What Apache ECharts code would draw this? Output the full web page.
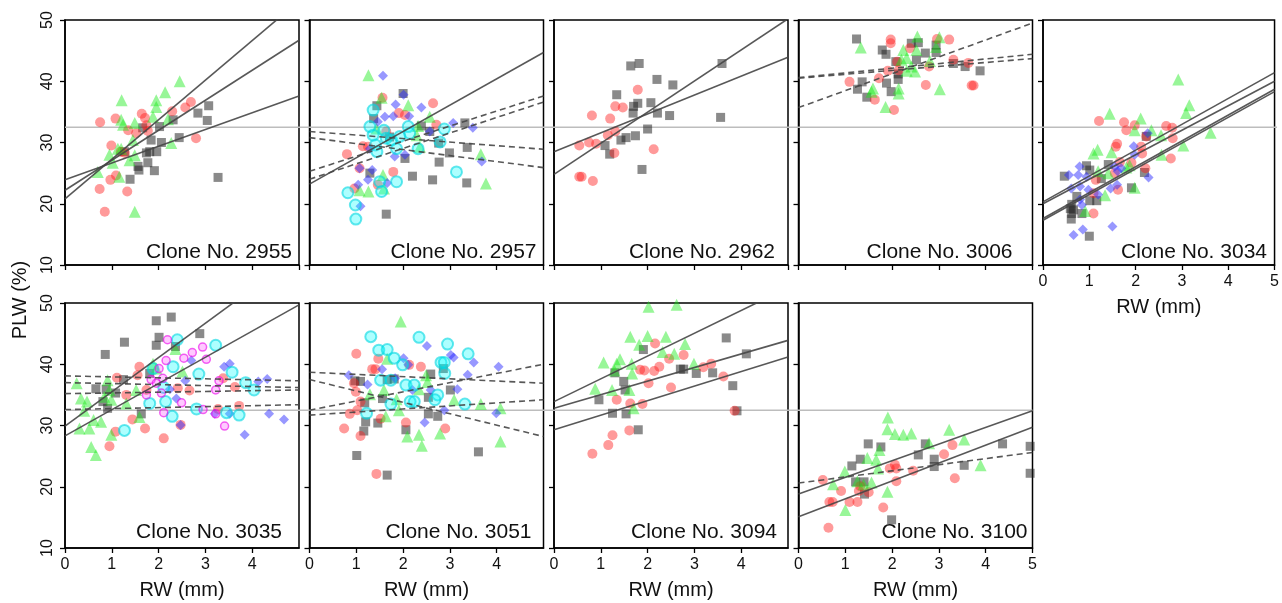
<!DOCTYPE html>
<html>
<head>
<meta charset="utf-8">
<title>PLW vs RW by clone</title>
<script src="https://cdn.jsdelivr.net/npm/echarts/dist/echarts.min.js"></script>
<style>
html, body { margin: 0; padding: 0; background: #fff; }
#main { width: 1282px; height: 603px; }
</style>
</head>
<body>
<div id="main"></div>
<script>
// clone labels, in panel order (top row then bottom row)
var clones = ['2955', '2957', '2962', '3006', '3034', '3035', '3051', '3094', '3100'];
var xTicks = [0, 1, 2, 3, 4, 5];
var yTicks = [10, 20, 30, 40, 50];
var refLevel = 32.5;

// points: [RW (mm), PLW (%)]
var gray2955 = [[1.39,24.0],[1.58,25.5],[1.56,26.1],[1.77,26.7],[1.74,28.3],[1.81,28.5],[1.91,25.4],[1.96,28.5],[1.84,30.4],[2.06,30.0],[2.02,32.6],[2.31,33.7],[2.44,30.8],[2.84,34.8],[3.07,36.0],[3.04,33.6],[3.27,24.3],[1.66,32.4],[1.27,28.5]];
var red2955 = [[0.75,33.3],[1.08,33.9],[0.74,22.4],[0.85,18.7],[0.99,29.5],[0.97,23.9],[1.09,24.6],[1.33,22.0],[1.19,28.5],[1.28,28.3],[1.35,32.0],[1.64,34.7],[1.71,34.0],[1.77,31.9],[1.74,32.8],[2.29,35.1],[2.57,35.7],[2.69,36.6],[2.80,30.7],[1.52,31.5]];
var green2955 = [[1.21,36.9],[1.20,33.7],[1.24,32.9],[1.49,33.2],[0.70,25.2],[0.95,28.0],[1.13,29.0],[1.02,26.7],[1.16,24.4],[1.38,27.1],[1.49,27.9],[1.45,30.4],[1.49,18.7],[1.95,36.9],[1.95,35.8],[2.14,38.2],[2.45,40.0],[1.88,34.2],[2.20,33.8],[2.27,29.9],[1.20,29.0]];

var green2957 = [[1.26,41.0],[1.54,37.3],[2.11,36.1],[2.57,34.2],[2.32,32.7],[2.29,31.2],[2.36,29.3],[1.57,24.7],[1.26,22.0],[1.07,22.2],[1.59,22.5],[3.66,28.1],[3.77,23.3],[1.43,32.3]];
var blue2957 = [[1.57,40.9],[1.84,36.2],[2.01,37.8],[2.39,35.7],[1.79,34.3],[2.13,34.3],[1.61,34.2],[1.46,33.4],[3.07,33.2],[3.49,32.4],[2.57,31.8],[2.04,28.0],[1.82,27.7],[1.07,25.8],[1.34,25.5],[1.25,23.9],[1.04,23.1],[1.66,23.4],[1.09,19.6],[3.68,26.9],[1.29,29.0]];
var red2957 = [[1.56,37.3],[2.64,36.4],[1.91,34.8],[2.04,34.5],[1.14,29.4],[0.80,28.1],[1.07,25.8],[1.79,25.2],[1.46,23.1],[2.71,32.9],[1.64,31.8],[1.25,29.3],[0.96,22.5]];
var gray2957 = [[2.00,38.0],[1.44,36.0],[1.37,33.9],[3.32,33.2],[3.37,29.2],[2.99,28.3],[2.77,26.8],[2.04,27.4],[2.20,24.5],[2.63,23.9],[3.36,23.4],[1.64,18.3],[2.76,29.9],[1.29,25.0],[1.71,30.9],[2.39,32.7],[2.57,31.8]];
var cyan2957 = [[1.36,35.3],[1.29,32.6],[1.36,31.2],[1.41,29.6],[1.44,28.5],[1.64,30.7],[1.75,30.4],[1.86,29.0],[2.11,32.6],[2.14,31.5],[2.32,29.0],[2.79,30.1],[2.88,32.2],[1.86,23.6],[1.50,23.6],[1.54,22.0],[0.82,21.8],[0.98,19.8],[0.99,17.5],[3.14,25.2],[1.59,32.0],[1.93,31.0]];

var gray2962 = [[1.64,42.5],[1.82,42.9],[2.20,40.3],[2.54,39.4],[3.59,42.9],[1.34,37.8],[1.79,36.4],[1.70,35.9],[1.69,34.8],[2.07,36.5],[2.21,34.8],[2.47,34.4],[3.56,34.1],[2.00,32.2],[1.74,31.1],[1.54,30.8],[1.43,30.4],[1.09,29.5],[1.19,28.1],[1.88,25.6]];
var red2962 = [[1.79,38.6],[1.31,35.9],[1.47,35.7],[0.81,34.4],[1.20,33.9],[1.15,31.2],[1.31,31.8],[0.54,29.5],[0.75,30.0],[0.90,29.8],[1.29,28.3],[2.13,28.9],[0.54,24.4],[0.59,24.4],[0.83,23.7]];

var gray3006 = [[1.24,46.9],[1.79,45.1],[1.87,44.4],[2.41,46.2],[2.56,46.3],[2.71,44.6],[2.94,45.9],[2.94,44.7],[2.52,43.5],[2.08,43.2],[3.31,42.9],[3.56,42.4],[3.88,41.7],[1.36,39.9],[1.26,38.7],[1.46,37.4],[1.88,39.7],[1.98,38.3],[2.13,40.3],[2.13,41.2]];
var red3006 = [[1.97,46.8],[1.97,46.2],[2.96,46.9],[3.22,46.8],[2.38,45.4],[2.11,43.2],[2.14,41.8],[1.91,41.7],[1.72,40.5],[1.09,39.9],[2.79,42.4],[3.31,43.5],[3.63,43.0],[2.72,39.4],[3.70,39.3],[3.74,39.3],[1.63,37.0],[2.04,35.3]];
var green3006 = [[1.33,45.5],[2.54,47.3],[3.01,47.2],[2.24,45.1],[2.52,45.1],[2.94,45.6],[2.31,43.8],[2.81,43.3],[2.41,42.4],[2.49,41.6],[2.31,41.7],[1.59,38.8],[1.56,38.3],[2.14,38.8],[2.14,38.0],[3.02,38.7],[1.86,35.8],[2.20,43.5]];

var green3034 = [[2.92,40.3],[3.16,36.1],[3.09,34.8],[1.44,34.7],[2.11,33.9],[1.98,32.0],[2.34,32.0],[2.55,31.2],[3.62,31.6],[3.03,29.5],[1.09,28.2],[1.18,28.8],[1.48,28.4],[2.56,28.0],[1.87,26.3],[1.80,25.9],[1.19,25.3],[1.41,25.0],[1.34,21.4],[1.98,22.6],[0.91,18.8]];
var red3034 = [[1.21,33.5],[1.75,33.3],[1.80,32.0],[1.98,32.8],[2.66,32.7],[2.79,32.4],[2.80,30.7],[1.60,29.8],[1.57,29.3],[2.12,29.3],[2.14,28.2],[2.76,27.4],[1.66,26.8],[1.91,26.7],[2.21,25.8],[1.55,25.0],[1.14,23.9],[1.62,22.3],[1.09,18.4],[1.09,21.7],[2.23,31.0]];
var blue3034 = [[0.79,26.1],[0.56,24.7],[0.76,24.7],[0.61,22.5],[0.80,22.8],[0.94,24.4],[0.98,22.3],[1.19,21.5],[0.80,20.7],[0.84,19.8],[0.86,15.8],[0.66,14.9],[1.50,16.3],[1.46,22.5],[1.60,23.1],[1.61,25.3],[1.69,25.8],[1.96,29.4],[1.98,28.0],[2.26,31.5],[2.28,24.3],[1.55,26.1]];
var gray3034 = [[0.46,24.5],[0.94,26.2],[1.01,25.5],[1.41,26.4],[1.26,24.1],[2.23,31.0],[2.19,25.1],[1.91,22.6],[1.16,20.5],[1.01,20.5],[0.62,19.9],[0.59,19.2],[0.62,18.4],[0.61,17.5],[0.84,18.4],[1.00,14.7],[0.73,21.2],[0.66,19.0]];

var gray3035 = [[1.95,47.1],[2.27,47.7],[2.01,44.4],[1.95,43.1],[1.27,43.6],[0.86,41.6],[2.88,45.0],[2.36,42.9],[0.66,36.0],[0.88,35.9],[1.08,35.3],[0.81,33.9],[0.91,32.8],[1.25,37.5],[1.63,31.9],[1.81,38.5]];
var green3035 = [[0.25,36.9],[0.34,34.4],[0.47,33.9],[0.41,32.4],[0.31,29.5],[0.52,29.5],[0.61,30.9],[0.77,30.6],[0.56,26.5],[0.66,25.2],[0.91,37.4],[0.95,35.8],[0.99,34.2],[0.99,28.5],[0.84,34.7],[1.31,33.6],[1.59,31.4],[1.88,40.1],[1.95,39.3],[2.36,42.5],[2.51,38.8],[1.52,35.8]];
var red3035 = [[1.11,37.8],[1.59,39.6],[1.55,38.2],[1.31,35.0],[1.44,31.0],[1.71,29.5],[1.08,29.0],[0.95,26.6],[2.11,27.9],[2.41,36.1],[2.47,30.1],[2.66,35.7],[3.38,37.7],[3.63,36.3],[3.72,33.2],[3.27,32.7],[1.74,35.8]];
var cyan3035 = [[2.40,44.0],[3.22,43.1],[1.81,33.6],[1.88,39.3],[2.31,39.6],[2.15,33.9],[2.29,31.5],[2.86,38.4],[2.81,32.7],[3.45,32.1],[3.57,38.7],[3.72,31.7],[3.86,37.0],[4.04,35.8],[1.27,29.2],[2.11,36.2]];
var pink3035 = [[2.19,44.0],[2.94,42.8],[2.72,41.9],[3.02,40.8],[2.16,40.6],[1.74,35.0],[1.84,37.5],[1.95,36.9],[2.09,37.7],[2.06,35.3],[2.11,32.1],[2.49,33.7],[2.54,41.0],[3.29,37.3],[2.95,32.6],[3.22,31.9],[3.41,29.9],[3.22,35.8],[2.01,39.3]];
var blue3035 = [[2.70,40.6],[2.57,37.3],[2.38,34.4],[2.47,30.1],[3.40,39.6],[3.52,40.1],[3.52,31.9],[3.20,31.9],[3.84,28.5],[4.13,37.2],[4.32,37.6],[4.36,31.9],[4.68,31.0],[2.24,35.9]];

var red3051 = [[1.00,41.7],[1.47,40.9],[1.34,39.2],[1.41,39.2],[0.99,35.5],[0.95,36.9],[1.09,33.9],[1.02,32.5],[0.86,31.9],[0.74,29.5],[1.09,28.3],[1.52,31.1],[2.06,30.5],[2.38,39.6],[2.13,39.9],[2.90,29.5],[1.43,22.1]];
var gray3051 = [[0.97,37.3],[1.09,37.2],[1.18,33.7],[1.20,30.6],[1.16,29.1],[1.46,30.4],[1.56,34.4],[1.66,37.5],[1.01,25.1],[1.66,21.9],[2.06,29.3],[2.54,31.9],[2.74,31.5],[2.54,34.6],[2.59,38.4],[2.86,39.3],[3.01,35.8],[3.61,25.7],[1.81,37.6]];
var green3051 = [[1.66,40.9],[1.29,35.1],[1.59,35.8],[1.86,34.3],[1.91,32.5],[1.63,31.5],[2.09,28.2],[2.34,28.5],[2.40,26.7],[2.79,28.7],[3.09,34.2],[3.66,33.5],[4.08,32.8],[4.08,27.4],[2.49,38.2],[2.52,37.1],[2.34,35.9],[1.95,47.0]];
var blue3051 = [[2.51,43.0],[3.02,41.5],[3.08,41.1],[3.51,40.3],[3.38,38.3],[4.04,39.6],[3.16,35.9],[2.88,32.5],[2.46,30.5],[3.99,32.0],[0.84,38.2],[1.24,36.7],[1.55,39.2],[1.83,37.7],[2.01,41.0],[2.11,39.9],[2.59,35.8],[2.20,35.8]];
var cyan3051 = [[1.48,42.3],[1.66,42.4],[1.81,41.0],[1.99,39.9],[1.52,37.4],[1.74,37.4],[2.06,36.6],[2.24,36.6],[2.15,33.9],[2.24,33.9],[1.74,33.5],[1.22,32.0],[2.74,35.0],[2.68,34.2],[2.81,40.3],[2.88,40.3],[2.89,38.5],[2.95,43.3],[3.39,41.7],[3.32,33.5],[2.34,44.4],[1.31,44.5]];

var green3094 = [[1.06,40.3],[1.41,40.8],[1.34,40.1],[1.29,39.0],[1.66,40.1],[1.67,38.5],[0.88,36.0],[1.24,35.8],[1.61,35.8],[1.70,32.8],[1.63,44.5],[1.82,43.2],[2.00,44.6],[2.32,42.0],[2.57,41.7],[2.80,43.3],[2.99,40.1],[2.39,44.5],[2.02,49.4],[2.62,49.7]];
var red3094 = [[2.16,43.4],[2.77,41.5],[2.46,40.9],[2.25,39.6],[2.14,38.9],[1.93,39.0],[1.84,39.1],[3.19,39.5],[3.36,40.1],[3.62,38.0],[2.02,36.9],[2.50,36.2],[1.34,34.2],[1.63,33.6],[1.89,33.5],[3.86,32.4],[1.61,29.2],[1.25,28.4],[1.16,26.8],[0.82,25.4]];
var gray3094 = [[1.91,42.4],[3.68,44.3],[4.11,41.7],[2.70,39.2],[2.77,39.2],[3.04,38.5],[3.39,38.6],[3.82,36.5],[0.96,34.2],[1.30,38.6],[1.49,37.2],[1.52,35.8],[1.25,32.0],[1.54,31.9],[1.80,29.3],[3.91,32.4]];

var green3100 = [[1.91,31.3],[1.90,29.4],[2.06,28.6],[2.24,28.5],[2.41,28.7],[3.22,29.3],[3.54,27.7],[3.89,23.5],[2.79,27.1],[1.73,26.0],[1.66,24.4],[1.70,23.0],[1.47,24.7],[0.99,22.5],[0.74,20.4],[1.26,20.9],[1.39,20.4],[1.56,20.7],[1.90,19.2],[1.00,16.2]];
var red3100 = [[0.52,21.1],[0.91,19.3],[0.66,17.5],[0.73,17.5],[0.64,13.3],[1.09,17.5],[1.26,17.5],[1.29,19.3],[1.50,19.1],[1.81,16.6],[1.95,23.0],[2.06,23.6],[2.09,23.0],[2.09,20.9],[2.45,22.6],[3.11,25.3],[3.29,26.8],[3.34,21.4],[1.32,20.1]];
var gray3100 = [[1.49,27.0],[1.76,26.5],[1.32,24.5],[1.14,23.4],[1.22,20.8],[1.40,20.8],[1.41,18.8],[1.99,14.6],[2.56,25.2],[2.71,27.0],[2.90,24.5],[2.90,23.3],[3.54,23.5],[4.36,27.0],[4.95,26.6],[4.95,22.2]];

// fitted lines: [PLW at RW=0, PLW at RW=5]; fit = significant, ns = not significant
var fit2955 = [[20.8,53.1],[22.2,46.7],[23.9,37.6]];
var fit2957 = [[23.2,44.7]];
var ns2957 = [[25.3,37.6],[24.0,36.6],[31.8,28.9],[30.8,25.9]];
var fit2962 = [[24.8,50.2],[28.5,43.9]];
var ns3006 = [[35.7,49.5],[40.6,44.4],[40.5,43.7]];
var fit3034 = [[20.3,41.4],[20.0,40.0],[17.6,38.7],[17.3,38.3]];
var fit3035 = [[29.9,57.9],[28.3,49.7]];
var ns3035 = [[38.1,37.3],[37.0,36.2],[35.2,35.8],[32.6,33.4]];
var ns3051 = [[38.7,36.9],[37.5,28.2],[32.5,40.0],[31.7,34.2]];
var fit3094 = [[33.9,52.5],[32.8,43.9],[29.3,41.2]];
var fit3100 = [[18.8,32.4],[15.1,29.7]];
var ns3100 = [[20.6,25.6]];

var panels = [
  { gray: gray2955, red: red2955, green: green2955, fit: fit2955 },
  { gray: gray2957, red: red2957, green: green2957, blue: blue2957, cyan: cyan2957, fit: fit2957, ns: ns2957 },
  { gray: gray2962, red: red2962, fit: fit2962 },
  { gray: gray3006, red: red3006, green: green3006, ns: ns3006 },
  { gray: gray3034, red: red3034, green: green3034, blue: blue3034, fit: fit3034 },
  { gray: gray3035, red: red3035, green: green3035, blue: blue3035, cyan: cyan3035, pink: pink3035, fit: fit3035, ns: ns3035 },
  { gray: gray3051, red: red3051, green: green3051, blue: blue3051, cyan: cyan3051, ns: ns3051 },
  { gray: gray3094, red: red3094, green: green3094, fit: fit3094 },
  { gray: gray3100, red: red3100, green: green3100, fit: fit3100, ns: ns3100 }
];

// layout
var FONT = "'Liberation Sans', Arial, Helvetica, sans-serif";
var colLeft = [65, 309.5, 554, 798.5, 1043];
var rowTop = [20, 303];
var panelW = 234, panelH = 245;
var labelInset = [7, 7, 13, 20, 10, 17, 12, 11, 5];

var markers = {
  gray:  { symbol: 'rect', size: 9, color: 'rgba(30,30,30,0.65)' },
  red:   { symbol: 'circle', size: 10, color: 'rgba(255,25,25,0.55)' },
  green: { symbol: 'triangle', size: 12, color: 'rgba(20,235,20,0.55)' },
  blue:  { symbol: 'diamond', size: 10, color: 'rgba(40,40,255,0.6)' },
  cyan:  { symbol: 'circle', size: 11, color: 'rgba(0,255,255,0.4)', border: 'rgba(0,215,225,0.75)', bw: 2 },
  pink:  { symbol: 'circle', size: 8, color: 'rgba(255,60,255,0.35)', border: 'rgba(235,0,235,0.75)', bw: 1.5 }
};
var order = ['gray', 'red', 'green', 'blue', 'cyan', 'pink'];

var grid = [], xAxis = [], yAxis = [], series = [], graphic = [];

panels.forEach(function (p, i) {
  var row = i < 5 ? 0 : 1;
  var col = i < 5 ? i : i - 5;
  var showX = (row === 0 && col === 4) || row === 1;
  var lastInRow = (row === 0 && col === 4) || (row === 1 && col === 3);
  grid.push({
    left: colLeft[col], top: rowTop[row], width: panelW, height: panelH,
    show: true, borderColor: '#000', borderWidth: 1.5
  });
  xAxis.push({
    type: 'value', gridIndex: i, min: xTicks[0], max: xTicks[xTicks.length - 1], interval: 1,
    axisLine: { show: true, onZero: false, lineStyle: { color: '#000', width: 1.5 } },
    axisTick: { show: true, length: 5, lineStyle: { color: '#000', width: 1.3 } },
    splitLine: { show: false },
    axisLabel: { show: showX, showMaxLabel: lastInRow, margin: 9, fontSize: 16, color: '#111', fontFamily: FONT },
    name: showX ? 'RW (mm)' : '', nameLocation: 'middle', nameGap: 32,
    nameTextStyle: { fontSize: 20, color: '#111', fontFamily: FONT }
  });
  yAxis.push({
    type: 'value', gridIndex: i, min: yTicks[0], max: yTicks[yTicks.length - 1], interval: 10,
    axisLine: { show: true, onZero: false, lineStyle: { color: '#000', width: 1.5 } },
    axisTick: { show: true, length: 5, lineStyle: { color: '#000', width: 1.3 } },
    splitLine: { show: false },
    axisLabel: { show: col === 0, rotate: 90, margin: 9, fontSize: 16, color: '#111', fontFamily: FONT }
  });

  order.forEach(function (k) {
    if (!p[k]) return;
    var m = markers[k];
    series.push({
      type: 'scatter', xAxisIndex: i, yAxisIndex: i, data: p[k],
      symbol: m.symbol, symbolSize: m.size, silent: true, z: 3,
      itemStyle: { color: m.color, borderColor: m.border || 'transparent', borderWidth: m.bw || 0 }
    });
  });

  [['fit', 'solid'], ['ns', [6, 4]]].forEach(function (kind) {
    (p[kind[0]] || []).forEach(function (ab) {
      series.push({
        type: 'line', xAxisIndex: i, yAxisIndex: i,
        data: [[xTicks[0], ab[0]], [xTicks[xTicks.length - 1], ab[1]]],
        symbol: 'none', silent: true, clip: true, z: 4,
        lineStyle: { color: 'rgba(70,70,70,0.9)', width: 1.6, type: kind[1] }
      });
    });
  });

  graphic.push({
    type: 'text', silent: true,
    x: colLeft[col] + panelW - labelInset[i],
    y: rowTop[row] + panelH - (row === 0 ? 13 : 15.5),
    style: { text: 'Clone No. ' + clones[i], fill: '#111', font: '21px ' + FONT, textAlign: 'right', textVerticalAlign: 'middle' }
  });
});

// reference level running across each row of panels
[[0, 5], [1, 4]].forEach(function (r) {
  var gi = grid.length;
  grid.push({ left: colLeft[0], top: rowTop[r[0]], width: colLeft[r[1] - 1] + panelW - colLeft[0], height: panelH });
  xAxis.push({ type: 'value', gridIndex: gi, min: 0, max: 1, show: false });
  yAxis.push({ type: 'value', gridIndex: gi, min: yTicks[0], max: yTicks[yTicks.length - 1], show: false });
  series.push({
    type: 'line', xAxisIndex: gi, yAxisIndex: gi, data: [[0, refLevel], [1, refLevel]],
    symbol: 'none', silent: true, z: 1,
    lineStyle: { color: '#bdbdbd', width: 1.6 }
  });
});

graphic.push({
  type: 'text', silent: true, x: 20, y: 300, rotation: Math.PI / 2,
  style: { text: 'PLW (%)', fill: '#111', font: '20px ' + FONT, textAlign: 'center', textVerticalAlign: 'middle' }
});

var chart = echarts.init(document.getElementById('main'), null, { renderer: 'canvas' });
chart.setOption({
  animation: false,
  backgroundColor: '#fff',
  grid: grid,
  xAxis: xAxis,
  yAxis: yAxis,
  series: series,
  graphic: graphic
});
</script>
</body>
</html>
